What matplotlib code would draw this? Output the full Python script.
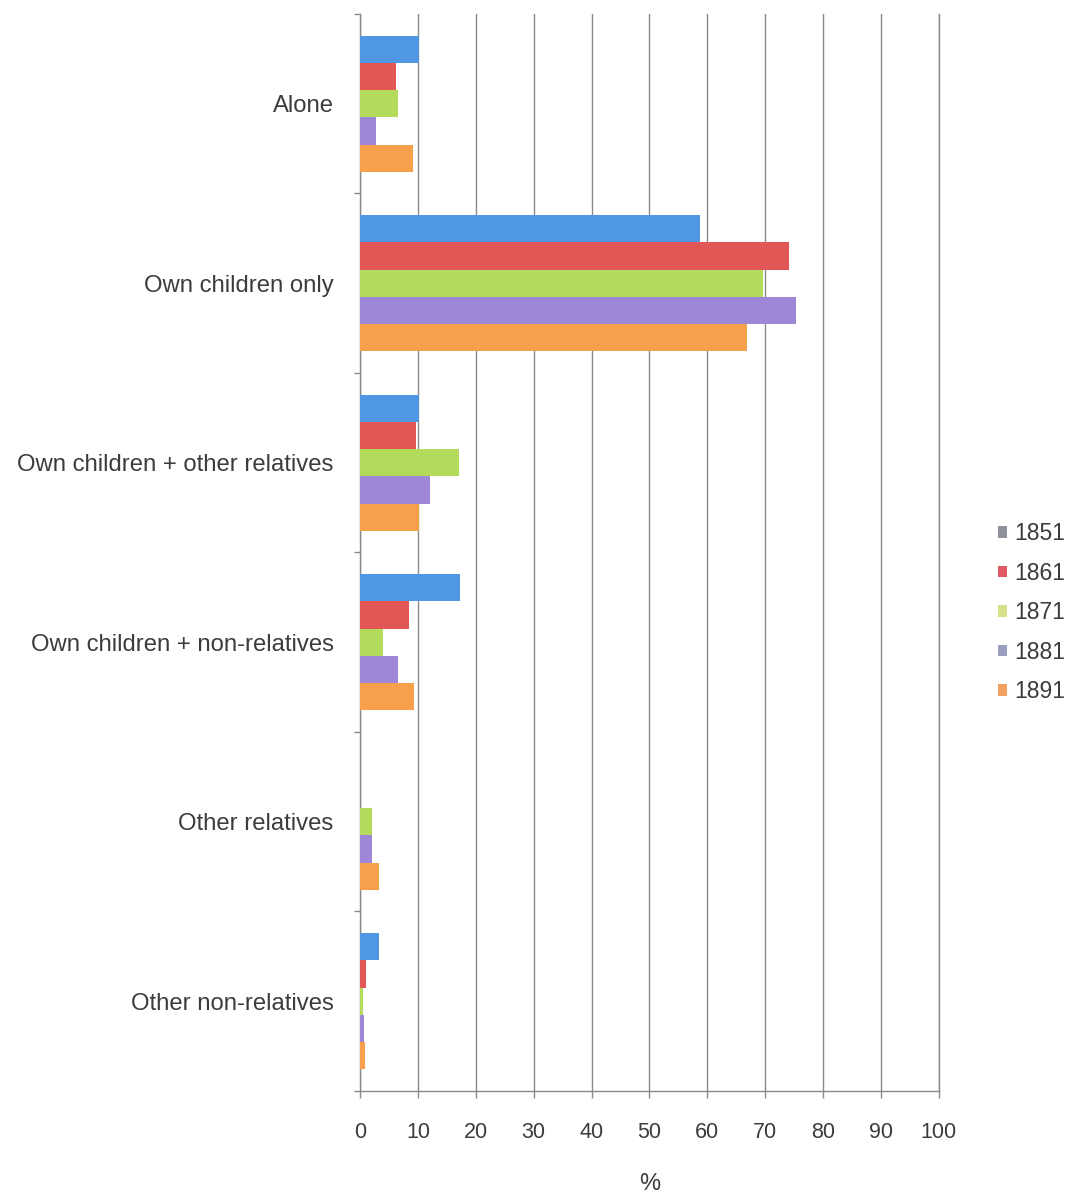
import numpy as np
import matplotlib
matplotlib.use("Agg")
import matplotlib.pyplot as plt
from matplotlib.patches import Patch

CATEGORIES = [
    "Alone",
    "Own children only",
    "Own children + other relatives",
    "Own children + non-relatives",
    "Other relatives",
    "Other non-relatives",
]
YEARS = ["1851", "1861", "1871", "1881", "1891"]

# share (%) per category, one list per census year
VALUES_1851 = [10.2, 58.7, 10.2, 17.2, 0.0, 3.3]
VALUES_1861 = [6.3, 74.1, 9.7, 8.5, 0.0, 1.0]
VALUES_1871 = [6.6, 69.7, 17.1, 4.0, 2.0, 0.6]
VALUES_1881 = [2.8, 75.4, 12.1, 6.6, 2.0, 0.7]
VALUES_1891 = [9.2, 66.9, 10.2, 9.3, 3.2, 0.9]

X_TICKS = [0, 10, 20, 30, 40, 50, 60, 70, 80, 90, 100]

BAR_COLORS = ["#4f96e3", "#e25656", "#b4da5c", "#9f87d8", "#f6a04c"]
LEGEND_COLORS = ["#8e939b", "#e05a64", "#d6e08a", "#9c9fc0", "#f0a060"]
TEXT_COLOR = "#3c3c3c"
GRID_COLOR = "#8a8a8a"

plt.rcParams["font.family"] = ["Liberation Sans", "DejaVu Sans"]

fig = plt.figure(figsize=(10.67, 11.94), dpi=100)
ax = fig.add_axes([0.3374, 0.0863, 0.5425, 0.902])

series = [VALUES_1851, VALUES_1861, VALUES_1871, VALUES_1881, VALUES_1891]
centers = np.arange(len(CATEGORIES))
bar_h = 0.152
for i, vals in enumerate(series):
    ax.barh(centers + (i - 2) * bar_h, vals, height=bar_h,
            color=BAR_COLORS[i], edgecolor="none", zorder=3)

ax.set_xlim(0, 100)
ax.set_ylim(len(CATEGORIES) - 0.5, -0.5)

ax.set_xticks(X_TICKS)
ax.set_xticklabels([str(t) for t in X_TICKS], fontsize=15.5, color=TEXT_COLOR)
ax.tick_params(axis="x", length=5, width=1, color=GRID_COLOR, pad=17)
ax.grid(True, axis="x", color=GRID_COLOR, linewidth=1.0, zorder=1)

ax.set_yticks(centers)
ax.set_yticklabels(CATEGORIES, fontsize=17.2, color=TEXT_COLOR)
ax.tick_params(axis="y", which="major", length=0, pad=19)
ax.set_yticks(np.arange(-0.5, len(CATEGORIES), 1.0), minor=True)
ax.tick_params(axis="y", which="minor", length=4, width=1, color=GRID_COLOR)

ax.spines["top"].set_visible(False)
for side in ["left", "bottom", "right"]:
    ax.spines[side].set_color(GRID_COLOR)
    ax.spines[side].set_linewidth(1.0)

ax.set_xlabel("%", fontsize=17, color=TEXT_COLOR, labelpad=22)

handles = [Patch(facecolor=c, edgecolor="none") for c in LEGEND_COLORS]
fig.legend(handles, YEARS, loc="center left", bbox_to_anchor=(0.916, 0.487),
           frameon=False, fontsize=16.5, handlelength=0.4, handleheight=0.4,
           handletextpad=0.3, labelspacing=0.72, labelcolor=TEXT_COLOR)

fig.savefig("out.png", dpi=100, facecolor="white")
